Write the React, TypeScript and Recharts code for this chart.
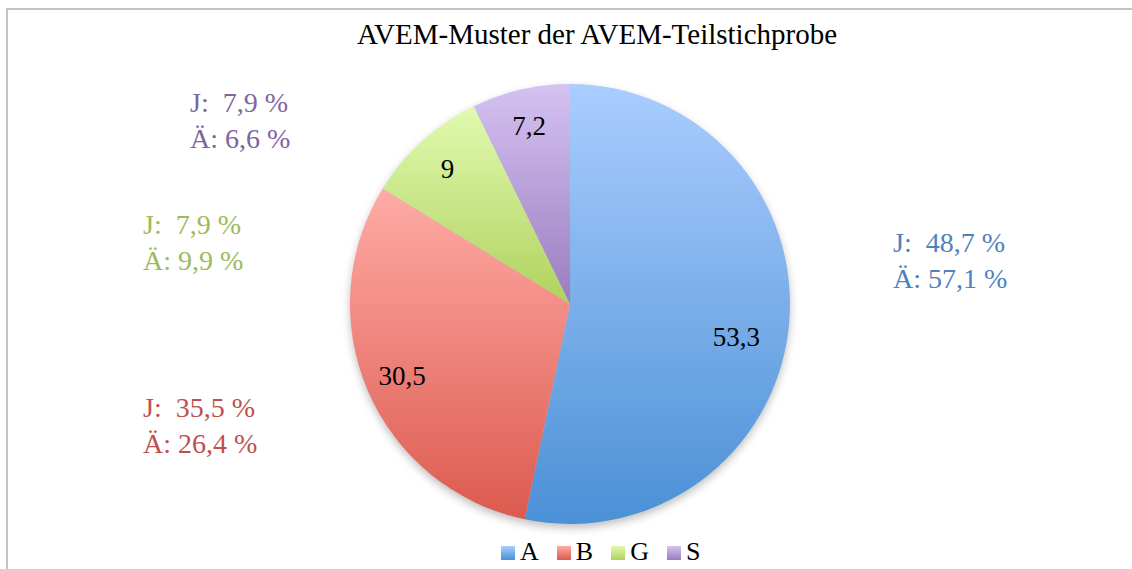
import React from 'react';
import { PieChart, Pie, Cell, Legend } from 'recharts';

// AVEM pattern shares of the subsample (percent)
const categories = ['A', 'B', 'G', 'S'];
const shares = [53.3, 30.5, 9, 7.2];
const youngShares = ['48,7', '35,5', '7,9', '7,9'];
const olderShares = ['57,1', '26,4', '9,9', '6,6'];

const gradTop = ['#aacdfe', '#ffaba6', '#e1fab0', '#d5c2f1'];
const gradBottom = ['#4b90d6', '#dc5a4e', '#afd25e', '#9a7cbf'];
const textColors = ['#4f81bd', '#c0504d', '#9bbb59', '#8064a2'];

const pieData = categories.map((name, i) => ({ name, value: shares[i] }));

const SERIF = '"Liberation Serif", "Times New Roman", serif';
const RADIAN = Math.PI / 180;

const renderLabel = ({ cx, cy, midAngle, outerRadius, value, index }: any) => {
  // the big slice's label sits a bit further in, like the original
  const r = outerRadius * (index === 0 ? 0.76 : 0.83);
  const x = cx + r * Math.cos(-midAngle * RADIAN);
  const y = cy + r * Math.sin(-midAngle * RADIAN) + (index === 0 ? 16 : 0);
  return (
    <text
      x={x}
      y={y}
      fill="#000"
      textAnchor="middle"
      dominantBaseline="central"
      style={{ fontFamily: SERIF, fontSize: 27 }}
    >
      {String(value).replace('.', ',')}
    </text>
  );
};

const LegendContent = () => (
  <div style={{ display: 'flex', alignItems: 'center', height: 28, fontFamily: SERIF, fontSize: 26, lineHeight: '28px' }}>
    {categories.map((c, i) => (
      <div key={c} style={{ display: 'flex', alignItems: 'center', marginRight: 18 }}>
        <div
          style={{
            width: 14,
            height: 14,
            background: `linear-gradient(${gradTop[i]}, ${gradBottom[i]})`,
            marginRight: 5,
            marginTop: 2,
          }}
        />
        <span style={{ color: '#000' }}>{c}</span>
      </div>
    ))}
  </div>
);

// where the outside notes sit (left, top)
const notePos = [
  [893, 225],
  [143, 390],
  [143, 207],
  [190, 85],
];

export default function App() {
  return (
    <div style={{ position: 'fixed', left: 0, top: 0, width: 1132, height: 569, background: '#fff', overflow: 'hidden' }}>
      <div
        style={{
          position: 'absolute',
          left: 6,
          top: 8,
          width: 1200,
          height: 700,
          border: '2px solid #c3c3c3',
          boxSizing: 'border-box',
        }}
      />
      <div
        style={{
          position: 'absolute',
          left: 0,
          top: 18,
          width: 1194,
          textAlign: 'center',
          fontFamily: SERIF,
          fontSize: 29,
          color: '#000',
        }}
      >
        AVEM-Muster der AVEM-Teilstichprobe
      </div>
      <div style={{ position: 'absolute', left: 0, top: 0 }}>
        <PieChart width={1132} height={569} margin={{ top: 0, right: 0, bottom: 0, left: 0 }}>
          <defs>
            {categories.map((c, i) => (
              <linearGradient key={c} id={`grad-${c}`} x1="0" y1="0" x2="0" y2="1">
                <stop offset="0%" stopColor={gradTop[i]} />
                <stop offset="100%" stopColor={gradBottom[i]} />
              </linearGradient>
            ))}
            <filter id="pieShadow" x="-20%" y="-20%" width="140%" height="140%">
              <feGaussianBlur stdDeviation="4" />
            </filter>
          </defs>
          <Pie
            data={pieData}
            dataKey="value"
            cx={570}
            cy={308}
            outerRadius={220}
            startAngle={90}
            endAngle={-270}
            stroke="none"
            fill="#000"
            fillOpacity={0.25}
            filter="url(#pieShadow)"
            legendType="none"
            isAnimationActive={false}
          />
          <Pie
            data={pieData}
            dataKey="value"
            cx={570}
            cy={304}
            outerRadius={220}
            startAngle={90}
            endAngle={-270}
            stroke="none"
            labelLine={false}
            label={renderLabel}
            isAnimationActive={false}
          >
            {pieData.map((d) => (
              <Cell key={d.name} fill={`url(#grad-${d.name})`} />
            ))}
          </Pie>
          <Legend
            content={<LegendContent />}
            wrapperStyle={{ position: 'absolute', left: 501, top: 538, width: 300, height: 28 }}
          />
        </PieChart>
      </div>
      {categories.map((c, i) => (
        <div
          key={c}
          style={{
            position: 'absolute',
            left: notePos[i][0],
            top: notePos[i][1],
            fontFamily: SERIF,
            fontSize: 28,
            lineHeight: '36px',
            color: textColors[i],
            whiteSpace: 'pre',
          }}
        >
          <div>{`J:  ${youngShares[i]} %`}</div>
          <div>{`Ä: ${olderShares[i]} %`}</div>
        </div>
      ))}
    </div>
  );
}
